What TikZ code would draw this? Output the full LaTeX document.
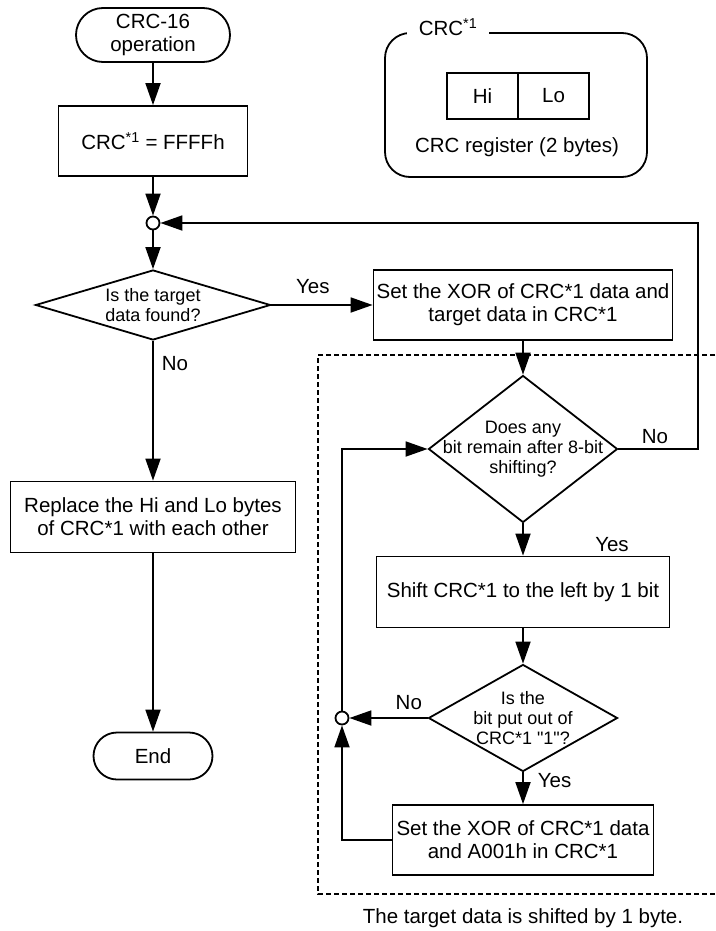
\documentclass[tikz,border=0pt]{standalone}
\usepackage{fontspec}
\setmainfont{Liberation Sans}
\usetikzlibrary{positioning, shapes.geometric, arrows.meta}

\begin{document}
\begin{tikzpicture}[
    x=1pt, y=-1pt,
    line width=1.8pt,
    font=\fontsize{20.5}{23}\selectfont,
    box/.style={rectangle, draw, align=center, inner sep=0pt},
    term/.style={rectangle, draw, align=center, inner sep=0pt},
    decision/.style={diamond, draw, inner sep=0pt},
    small/.style={font=\fontsize{18}{20}\selectfont, align=center, inner sep=0pt},
    junction/.style={circle, draw, fill=white, inner sep=0pt, minimum size=13pt},
    arrow/.style={-{Triangle[length=22pt, width=15pt]}},
    lbl/.style={inner sep=1pt},
    frame/.style={dashed, dash pattern=on 5pt off 3pt, line width=1.3pt}
]
    \useasboundingbox (0,0) rectangle (715,931);

    \node[term, minimum width=154pt, minimum height=54pt, rounded corners=27pt] (start) at (153,35) {CRC-16\\operation};
    \node[box, minimum width=189pt, minimum height=70pt] (init) at (153,141) {CRC\textsuperscript{*1} = FFFFh};
    \node[junction] (j1) at (153,223) {};
    \node[decision, minimum width=235pt, minimum height=70pt, label={[small]center:Is the target\\data found?}] (found) at (153,305) {};
    \node[box, minimum width=285pt, minimum height=71pt] (swap) at (153,517) {Replace the Hi and Lo bytes\\of CRC*1 with each other};
    \node[term, minimum width=119pt, minimum height=47pt, rounded corners=23.5pt] (end) at (153,756) {End};

    \node[draw, rounded corners=25pt, minimum width=262pt, minimum height=144pt] (reg) at (516,105) {};
    \node[fill=white, inner xsep=12pt, inner ysep=2pt] (reglbl) at (448,27) {CRC\textsuperscript{*1}};
    \node[box, outer sep=0pt, minimum width=71pt, minimum height=46pt] (hi) at (482.5,96) {Hi};
    \node[box, outer sep=0pt, minimum width=71pt, minimum height=46pt, right=0pt of hi] (lo) {Lo};
    \node (regtext) at (517,147) {CRC register (2 bytes)};

    \node[box, minimum width=299pt, minimum height=70pt] (xor1) at (523,305) {Set the XOR of CRC*1 data and\\target data in CRC*1};
    \node[decision, minimum width=189pt, minimum height=147pt, label={[small]center:Does any\\bit remain after 8-bit\\shifting?}] (remain) at (523,449) {};
    \node[box, minimum width=293pt, minimum height=71pt] (shift) at (523,592) {Shift CRC*1 to the left by 1 bit};
    \node[decision, minimum width=189pt, minimum height=107pt, label={[small]center:Is the\\bit put out of\\CRC*1 \textquotedbl 1\textquotedbl ?}] (bitout) at (523,718) {};
    \node[junction] (j2) at (342,718) {};
    \node[box, minimum width=261pt, minimum height=70pt] (xor2) at (523,840) {Set the XOR of CRC*1 data\\and A001h in CRC*1};

    \coordinate (loopturn) at (698,449);
    \draw[frame] (715,355) -| (318,894) -- (715,894);
    \node (note) at (523,918) {The target data is shifted by 1 byte.};

    \draw[arrow] (start) -- (init);
    \draw[arrow] (init) -- (j1);
    \draw[arrow] (j1) -- (found);
    \draw[arrow] (found) -- node[lbl, pos=0.41, yshift=18pt] {Yes} (xor1);
    \draw[arrow] (found) -- node[lbl, right=7pt, pos=0.16] {No} (swap);
    \draw[arrow] (swap) -- (end);
    \draw[arrow] (xor1) -- (remain);
    \draw[arrow] (remain) -- node[lbl, pos=0.46, yshift=12pt] {No} (loopturn) |- (j1);
    \draw[arrow] (remain) -- node[lbl, pos=0.66, xshift=89pt] {Yes} (shift);
    \draw[arrow] (shift) -- (bitout);
    \draw[arrow] (bitout) -- node[lbl, pos=0.24, yshift=15pt] {No} (j2);
    \draw[arrow] (bitout) -- node[lbl, right=13pt, pos=0.25] {Yes} (xor2);
    \draw[arrow] (xor2) -| (j2);
    \draw[arrow] (j2) |- (remain);
\end{tikzpicture}
\end{document}
